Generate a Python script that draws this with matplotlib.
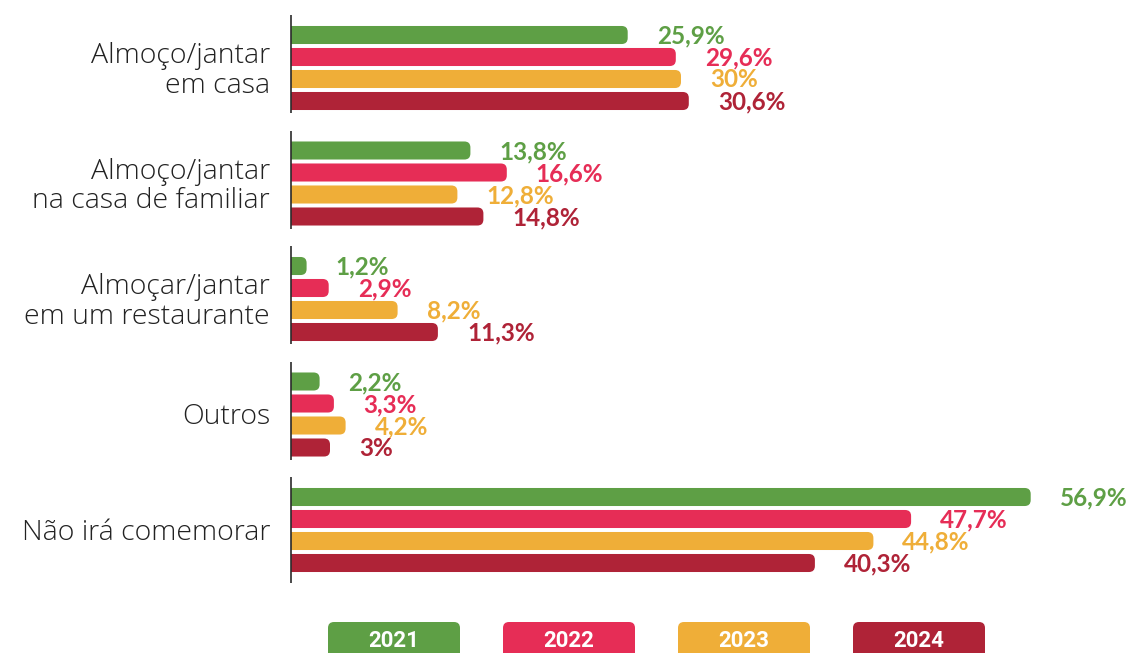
import matplotlib.pyplot as plt
from matplotlib.patches import FancyBboxPatch

W, H = 1131, 653

categories = ["Almoço/jantar\nem casa",
              "Almoço/jantar\nna casa de familiar",
              "Almoçar/jantar\nem um restaurante",
              "Outros",
              "Não irá comemorar"]
years = ["2021", "2022", "2023", "2024"]
v2021 = [25.9, 13.8, 1.2, 2.2, 56.9]
v2022 = [29.6, 16.6, 2.9, 3.3, 47.7]
v2023 = [30.0, 12.8, 8.2, 4.2, 44.8]
v2024 = [30.6, 14.8, 11.3, 3.0, 40.3]
series = [v2021, v2022, v2023, v2024]
colors = ["#5E9F45", "#E62D56", "#EFAE38", "#AF2337"]

px_x = 13.0      # pixels per %
px_y = 22.0      # pixels per bar slot
group_step = 5.25
bar_h = 0.82

fig = plt.figure(figsize=(W / 100, H / 100), dpi=100)
ax = fig.add_axes([291 / W, (H - 600) / H, (W - 291) / W, 600 / H])
ax.set_xlim(0, (W - 291) / px_x)
ax.set_ylim((600 - 35) / px_y, -35 / px_y)
ax.axis("off")

r = 6 / px_x
for i, cat in enumerate(categories):
    base = i * group_step
    for j, vals in enumerate(series):
        v = vals[i]
        y = base + j
        p = FancyBboxPatch((-2, y - bar_h / 2), v + 2, bar_h,
                           boxstyle=f"round,pad=0,rounding_size={r}",
                           mutation_aspect=px_x / px_y,
                           fc=colors[j], ec="none")
        ax.add_patch(p)
        ax.annotate(f"{v:g}%".replace(".", ","), xy=(v, y), xytext=(29, -1),
                    textcoords="offset pixels", ha="left", va="center",
                    fontsize=17.5, fontweight="bold", family="Lato",
                    color=colors[j])
    bottom = base + (3.55 if i < len(categories) - 1 else 3.9)
    ax.plot([0, 0], [base - 0.9, bottom], color="#2b2b2b", lw=1.2,
            clip_on=False, solid_capstyle="butt")
    ax.annotate(cat, xy=(0, base + 1.5), xytext=(-21, -3),
                textcoords="offset pixels", ha="right", va="center",
                fontsize=20.5, family="Open Sans", fontweight="light",
                color="#222222", linespacing=1.05)

# legend boxes at the bottom
lg = fig.add_axes([0, 0, 1, 40 / H])
lg.set_xlim(0, W)
lg.set_ylim(0, 40)
lg.axis("off")
for k, yr in enumerate(years):
    cx = 394 + k * 175
    lg.add_patch(FancyBboxPatch((cx - 66, -20), 132, 51,
                                boxstyle="round,pad=0,rounding_size=6",
                                fc=colors[k], ec="none", clip_on=False))
    lg.text(cx, 12, yr, ha="center", va="center", color="white",
            fontsize=16, fontweight="bold", family="Roboto")

fig.savefig("out.png", dpi=100)
